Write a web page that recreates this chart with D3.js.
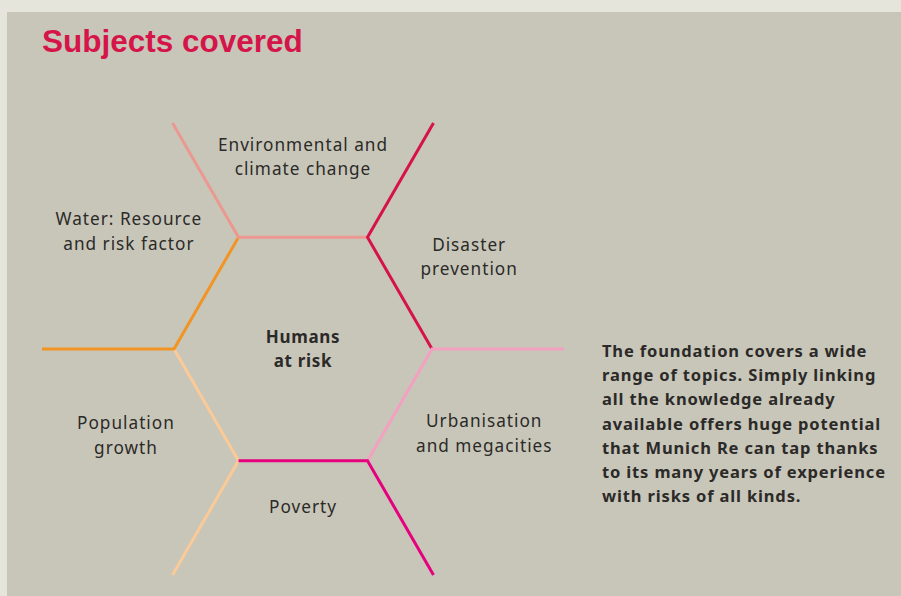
<!DOCTYPE html>
<html><head><meta charset="utf-8">
<script src="https://cdn.jsdelivr.net/npm/d3@7/dist/d3.min.js"></script>
<style>
html,body{margin:0;padding:0;background:#e6e5dc;}
svg{display:block;}
</style></head>
<body>
<script>
// ---- data ----
const topics = ["Disaster prevention","Urbanisation and megacities","Poverty","Population growth","Water: Resource and risk factor","Environmental and climate change"];
const topicLines = [["Disaster","prevention"],["Urbanisation","and megacities"],["Poverty"],["Population","growth"],["Water: Resource","and risk factor"],["Environmental and","climate change"]];
const topicColors = ["#d7124b","#f4a0c0","#e6007e","#fcca96","#f29424","#eb9890"];
const centerLines = ["Humans","at risk"];
const title = "Subjects covered";
const noteLines = ["The foundation covers a wide","range of topics. Simply linking","all the knowledge already","available offers huge potential","that Munich Re can tap thanks","to its many years of experience","with risks of all kinds."];

// ---- layout ----
const W = 901, H = 596;
const cx = 303, cy = 349, R = 129, spoke = 132;
// label placement (angle in degrees from east, clockwise; distance from centre)
const labelPos = [[-29,190],[25,200],[90,158],[154,197],[-146,210],[-90,192]];

const svg = d3.select("body").append("svg").attr("width", W).attr("height", H);
svg.append("rect").attr("x",7).attr("y",12).attr("width",W-7).attr("height",H-12).attr("fill","#c8c6b9");

svg.append("text").attr("x",42).attr("y",52).text(title)
  .attr("font-family","Liberation Sans, Arial, sans-serif").attr("font-weight","bold")
  .attr("font-size",31.5).attr("fill","#d5154a");

const ang = d3.scaleLinear().domain([0,6]).range([0, 2*Math.PI]);
const vert = k => [cx + R*Math.cos(ang(k)), cy + R*Math.sin(ang(k))];
const tip = k => [cx + (R+spoke)*Math.cos(ang(k)), cy + (R+spoke)*Math.sin(ang(k))];
const line = d3.line();
const order = [3,4,5,0,1,2];
order.forEach(i => {
  const k = (i + 5) % 6;
  svg.append("path").attr("d", line([tip(k), vert(k), vert(k+1)]))
    .attr("fill","none").attr("stroke", topicColors[i]).attr("stroke-width",3)
    .attr("stroke-linejoin","miter").attr("stroke-linecap","butt");
});

const fam = "Noto Sans, Open Sans, sans-serif";
topicLines.forEach((lines,i) => {
  const a = labelPos[i][0]*Math.PI/180, d = labelPos[i][1];
  const x = cx + d*Math.cos(a), y = cy + d*Math.sin(a);
  const t = svg.append("text").attr("text-anchor","middle").attr("font-family",fam)
    .attr("font-size",17.2).attr("fill","#2b2a28").attr("letter-spacing",1.0);
  lines.forEach((s,j) => t.append("tspan").attr("x",x).attr("y", y + 6 + (j - (lines.length-1)/2)*24.5).text(s));
});

const ct = svg.append("text").attr("text-anchor","middle").attr("font-family",fam)
  .attr("font-size",17).attr("font-weight","bold").attr("fill","#2b2a28").attr("letter-spacing",0.7);
centerLines.forEach((s,j)=> ct.append("tspan").attr("x",cx).attr("y", cy - 12 + 6 + j*24).text(s));

const nt = svg.append("text").attr("font-family",fam).attr("font-size",16.5)
  .attr("font-weight","bold").attr("fill","#2b2a28").attr("letter-spacing",0.85);
noteLines.forEach((s,j)=> nt.append("tspan").attr("x",602).attr("y", 357 + j*24.2).text(s));
</script>
</body></html>
